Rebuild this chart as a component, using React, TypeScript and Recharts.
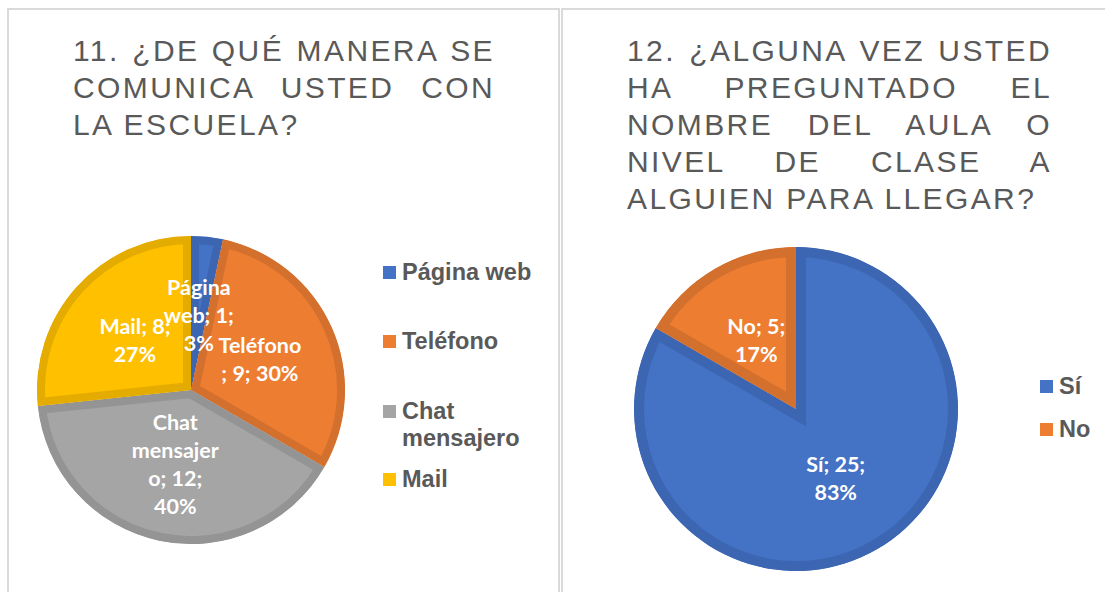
import { PieChart, Pie, Cell, Legend, Sector } from 'recharts';

// 11. ¿De qué manera se comunica usted con la escuela?
const commNames = ['Página web', 'Teléfono', 'Chat mensajero', 'Mail'];
const commValues = [1, 9, 12, 8];
const commLabelLines = [
  ['Página', 'web; 1;', '3%'],
  ['Teléfono', '; 9; 30%'],
  ['Chat', 'mensajer', 'o; 12;', '40%'],
  ['Mail; 8;', '27%'],
];
const commTitle = ['11. ¿DE QUÉ MANERA SE', 'COMUNICA USTED CON', 'LA ESCUELA?'];

// 12. ¿Alguna vez usted ha preguntado ...?
const askNames = ['Sí', 'No'];
const askValues = [25, 5];
const askLabelLines = [
  ['Sí; 25;', '83%'],
  ['No; 5;', '17%'],
];
const askTitle = ['12. ¿ALGUNA VEZ USTED', 'HA PREGUNTADO EL', 'NOMBRE DEL AULA O', 'NIVEL DE CLASE A', 'ALGUIEN PARA LLEGAR?'];

const fills = ['#4472C4', '#ED7D31', '#A5A5A5', '#FFC000'];
const bands = ['#3C66B1', '#D4702D', '#949494', '#E4AC00'];

const commData = commNames.map((name, i) => ({ name, value: commValues[i] }));
const askData = askNames.map((name, i) => ({ name, value: askValues[i] }));

const RADIAN = Math.PI / 180;
const textGray = '#595959';

// slice with the darker outline kept inside the slice (excel look)
function insetShape(prefix: string, band: number) {
  return (props: any) => {
    const id = `${prefix}-${Math.round(props.startAngle * 100)}`;
    const geom = {
      cx: props.cx,
      cy: props.cy,
      innerRadius: props.innerRadius,
      outerRadius: props.outerRadius,
      startAngle: props.startAngle,
      endAngle: props.endAngle,
    };
    return (
      <g>
        <clipPath id={id}>
          <Sector {...geom} />
        </clipPath>
        <Sector {...geom} fill={props.fill} stroke={props.stroke} strokeWidth={band * 2} clipPath={`url(#${id})`} />
      </g>
    );
  };
}

function makeLabel(lines: string[][]) {
  return (p: any) => {
    const r = p.outerRadius * 0.49;
    const x = p.cx + r * Math.cos(-p.midAngle * RADIAN);
    const y = p.cy + r * Math.sin(-p.midAngle * RADIAN);
    const ls = lines[p.index] || [];
    const lh = 28;
    const y0 = y - ((ls.length - 1) * lh) / 2;
    return (
      <text
        key={`lbl-${p.index}`}
        x={x}
        y={y0}
        fill="#fff"
        textAnchor="middle"
        dominantBaseline="central"
        fontFamily="Lato, 'Open Sans', sans-serif"
        fontWeight={700}
        fontSize={21.5}
      >
        {ls.map((l, i) => (
          <tspan key={i} x={x} y={y0 + i * lh}>
            {l}
          </tspan>
        ))}
      </text>
    );
  };
}

function LegendBox({ names, offsets }: { names: string[]; offsets: number[] }) {
  return (
    <div
      style={{
        position: 'relative',
        fontFamily: "'Liberation Sans', Arial, sans-serif",
        fontWeight: 700,
        fontSize: 23.5,
        color: textGray,
      }}
    >
      {names.map((n, i) => (
        <div
          key={n}
          style={{ position: 'absolute', top: offsets[i], left: 0, display: 'flex', alignItems: 'flex-start', lineHeight: '27px' }}
        >
          <span style={{ flex: 'none', width: 13, height: 13, background: fills[i], marginTop: 7, marginRight: 6 }} />
          <span style={{ maxWidth: 140 }}>{n}</span>
        </div>
      ))}
    </div>
  );
}

function Title({ lines, width }: { lines: string[]; width: number }) {
  return (
    <div
      style={{
        position: 'absolute',
        left: 64,
        top: 22,
        width,
        fontFamily: "'Liberation Sans', Arial, sans-serif",
        fontSize: 30,
        lineHeight: '37px',
        letterSpacing: 2.4,
        color: textGray,
        zIndex: 2,
      }}
    >
      {lines.map((l, i) => (
        <div
          key={i}
          style={{
            textAlign: i < lines.length - 1 ? 'justify' : 'left',
            textAlignLast: i < lines.length - 1 ? 'justify' : 'left',
            whiteSpace: 'nowrap',
          }}
        >
          {l}
        </div>
      ))}
    </div>
  );
}

const panel: React.CSSProperties = {
  position: 'absolute',
  top: 8,
  height: 700,
  border: '2px solid #dadada',
  boxSizing: 'border-box',
  background: '#fff',
};

export default function App() {
  return (
    <div style={{ position: 'absolute', left: 0, top: 0, width: 1105, height: 592, overflow: 'hidden', background: '#fff' }}>
      <div style={{ ...panel, left: 7, width: 553 }}>
        <Title lines={commTitle} width={422} />
        <PieChart width={549} height={590} margin={{ top: 0, right: 0, bottom: 0, left: 0 }}>
          <Pie
            data={commData}
            dataKey="value"
            nameKey="name"
            cx={182}
            cy={380}
            outerRadius={154}
            startAngle={90}
            endAngle={-270}
            strokeWidth={8}
            shape={insetShape('comm', 8)}
            label={makeLabel(commLabelLines)}
            labelLine={false}
            isAnimationActive={false}
          >
            {commData.map((d, i) => (
              <Cell key={d.name} fill={fills[i]} stroke={bands[i]} />
            ))}
          </Pie>
          <Legend
            layout="vertical"
            verticalAlign="top"
            align="right"
            wrapperStyle={{ left: 374, top: 249, width: 170 }}
            content={() => <LegendBox names={commNames} offsets={[0, 69, 139, 207]} />}
          />
        </PieChart>
      </div>
      <div style={{ ...panel, left: 561, width: 600 }}>
        <Title lines={askTitle} width={425} />
        <PieChart width={596} height={590} margin={{ top: 0, right: 0, bottom: 0, left: 0 }}>
          <Pie
            data={askData}
            dataKey="value"
            nameKey="name"
            cx={233}
            cy={399}
            outerRadius={162}
            startAngle={90}
            endAngle={-270}
            strokeWidth={10}
            shape={insetShape('ask', 10)}
            label={makeLabel(askLabelLines)}
            labelLine={false}
            isAnimationActive={false}
          >
            {askData.map((d, i) => (
              <Cell key={d.name} fill={fills[i]} stroke={bands[i]} />
            ))}
          </Pie>
          <Legend
            layout="vertical"
            verticalAlign="top"
            align="right"
            wrapperStyle={{ left: 477, top: 363, width: 100 }}
            content={() => <LegendBox names={askNames} offsets={[0, 43]} />}
          />
        </PieChart>
      </div>
    </div>
  );
}
